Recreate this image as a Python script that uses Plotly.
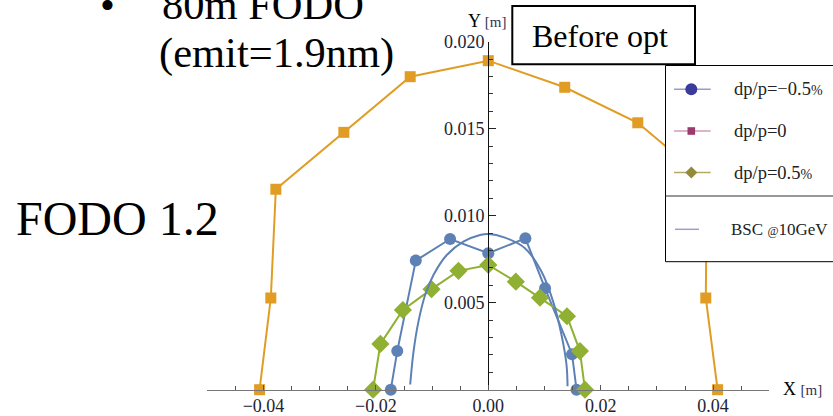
import plotly.graph_objects as go

W, H = 833, 416

# ---- data ----
x_dp0 = [-0.0407, -0.0387, -0.0378, -0.0257, -0.0139, 0.0, 0.0136, 0.0266, 0.0389, 0.0387, 0.0408]
y_dp0 = [0.0, 0.00527, 0.01152, 0.01479, 0.01799, 0.01891, 0.01738, 0.01534, 0.0120, 0.00527, 0.0]

x_dpm = [-0.01735, -0.0162, -0.0129, -0.0068, 0.0, 0.0066, 0.0101, 0.0149, 0.0157]
y_dpm = [0.0, 0.00222, 0.00742, 0.00866, 0.00784, 0.0087, 0.00583, 0.00204, 0.0]

x_dpp = [-0.0205, -0.0192, -0.0152, -0.0101, -0.0053, 0.0, 0.0049, 0.0092, 0.0140, 0.0163, 0.0172]
y_dpp = [0.0, 0.00263, 0.00458, 0.00578, 0.00683, 0.00717, 0.00621, 0.00529, 0.00422, 0.00222, 0.0]

x_bsc = [-0.0139, -0.01331, -0.01243, -0.01124, -0.00976, -0.00739, -0.00444, -0.00147, 0.0,
         0.00296, 0.00652, 0.00948, 0.01154, 0.01303, 0.01392, 0.0141]
y_bsc = [0.0003, 0.00218, 0.00391, 0.00544, 0.00659, 0.00774, 0.00851, 0.00889, 0.00895,
         0.00874, 0.00813, 0.00678, 0.00506, 0.00314, 0.00142, 0.0002]

x_ticks = [-0.04, -0.02, 0.0, 0.02, 0.04]
x_ticklabels = ["\u22120.04", "\u22120.02", "0.00", "0.02", "0.04"]
y_ticks = [0.005, 0.010, 0.015, 0.020]
y_ticklabels = ["0.005", "0.010", "0.015", "0.020"]

legend_labels = ["dp/p=\u22120.5<span style='font-size:14px'>%</span>", "dp/p=0",
                 "dp/p=0.5<span style='font-size:14px'>%</span>",
                 "BSC <span style='font-size:12px'>@</span>10GeV"]
legend_sizes = [18.5, 18.5, 18.5, 17]

SERIF = "Liberation Serif, Times New Roman, serif"
ORANGE, BLUE, GREEN = "#E19C24", "#5E81B5", "#8FB032"


def P(px, py):
    return px / W, 1 - py / H


fig = go.Figure()
fig.add_trace(go.Scatter(x=x_dp0, y=y_dp0, mode="lines+markers", cliponaxis=False,
                         line=dict(color=ORANGE, width=2),
                         marker=dict(symbol="square", size=11, color=ORANGE)))
fig.add_trace(go.Scatter(x=x_dpm, y=y_dpm, mode="lines+markers", cliponaxis=False,
                         line=dict(color=BLUE, width=2),
                         marker=dict(symbol="circle", size=12, color=BLUE)))
fig.add_trace(go.Scatter(x=x_dpp, y=y_dpp, mode="lines+markers", cliponaxis=False,
                         line=dict(color=GREEN, width=2),
                         marker=dict(symbol="diamond", size=14, color=GREEN)))
fig.add_trace(go.Scatter(x=x_bsc, y=y_bsc, mode="lines", cliponaxis=False,
                         line=dict(color=BLUE, width=2, shape="spline", smoothing=1.0)))

x0p, x1p = 207.3, 769.3
ytop, ybot = 41.7, 389.7
yaxis_px = 488.3

fig.update_layout(
    width=W, height=H, margin=dict(l=0, r=0, t=0, b=0, pad=0, autoexpand=False),
    paper_bgcolor="white", plot_bgcolor="white", showlegend=False,
    font=dict(family=SERIF, color="#222233"),
    xaxis=dict(range=[-0.05, 0.05], domain=[x0p / W, x1p / W], anchor="y",
               automargin=False,
               showline=True, linecolor="#777777", linewidth=1.2,
               showgrid=False, zeroline=False,
               ticks="inside", ticklen=5, tickwidth=1, tickcolor="#555555",
               tickvals=x_ticks, ticktext=x_ticklabels,
               tickfont=dict(family=SERIF, size=18, color="#222233"),
               minor=dict(ticks="inside", ticklen=3.5, tick0=0, dtick=0.005,
                          tickcolor="#555555", showgrid=False)),
    yaxis=dict(range=[0, 0.020], domain=[1 - ybot / H, 1 - ytop / H], anchor="free",
               position=yaxis_px / W, automargin=False,
               showline=True, linecolor="#111111", linewidth=1.2,
               showgrid=False, zeroline=False,
               ticks="inside", ticklen=7, tickwidth=1, tickcolor="#222222",
               tickvals=y_ticks, ticktext=y_ticklabels,
               tickfont=dict(family=SERIF, size=18, color="#222233"),
               minor=dict(ticks="inside", ticklen=4, tick0=0, dtick=0.001,
                          tickcolor="#333333", showgrid=False)),
)

shapes = []
ann = []

# axis labels
x, y = P(487, 21)
ann.append(dict(x=x, y=y, xref="paper", yref="paper", xanchor="center", yanchor="middle",
                text="Y <span style='font-size:15px;color:#333355'>[m]</span>",
                showarrow=False, font=dict(family=SERIF, size=18, color="black")))
x, y = P(781, 389)
ann.append(dict(x=x, y=y, xref="paper", yref="paper", xanchor="left", yanchor="middle",
                text="X <span style='font-size:15px;color:#333355'>[m]</span>",
                showarrow=False, font=dict(family=SERIF, size=18, color="black")))

# slide texts
x, y = P(160, 5)
ann.append(dict(x=x, y=y, xref="paper", yref="paper", xanchor="left", yanchor="middle",
                text="80m FODO", showarrow=False, font=dict(family=SERIF, size=42.5, color="black")))
x, y = P(107, 5)
ann.append(dict(x=x, y=y, xref="paper", yref="paper", xanchor="center", yanchor="middle",
                text="\u2022", showarrow=False, font=dict(family=SERIF, size=42.5, color="black")))
x, y = P(157, 53)
ann.append(dict(x=x, y=y, xref="paper", yref="paper", xanchor="left", yanchor="middle",
                text="(emit=1.9nm)", showarrow=False, font=dict(family=SERIF, size=42.5, color="black")))
x, y = P(14, 218)
ann.append(dict(x=x, y=y, xref="paper", yref="paper", xanchor="left", yanchor="middle",
                text="FODO 1.2", showarrow=False, font=dict(family=SERIF, size=48, color="black")))

# "Before opt" box
ax0, ay0 = P(512.3, 6)
ax1, ay1 = P(695, 64.3)
shapes.append(dict(type="rect", xref="paper", yref="paper", x0=ax0, y0=ay1, x1=ax1, y1=ay0,
                   line=dict(color="black", width=2), fillcolor="white", layer="above"))
x, y = P(600, 36)
ann.append(dict(x=x, y=y, xref="paper", yref="paper", xanchor="center", yanchor="middle",
                text="Before opt", showarrow=False, font=dict(family=SERIF, size=32, color="black")))

# legend box
lx0, ly0 = P(665.5, 65.5)
lx1, ly1 = P(845, 261.7)
shapes.append(dict(type="rect", xref="paper", yref="paper", x0=lx0, y0=ly1, x1=lx1, y1=ly0,
                   line=dict(color="black", width=1), fillcolor="white", layer="above"))
sx0, sy = P(665.5, 196)
sx1, _ = P(845, 196)
shapes.append(dict(type="line", xref="paper", yref="paper", x0=sx0, y0=sy, x1=sx1, y1=sy,
                   line=dict(color="#333333", width=1), layer="above"))

item_y = [89.3, 131.0, 172.5, 229.3]
line_cols = ["#9a9ad0", "#d49ab8", "#b3aa66", "#9d9dd6"]
mark_cols = ["#3b3b9c", "#9c3a6c", "#948a3c", None]
for i, yy in enumerate(item_y):
    xa = 674 if i < 3 else 675
    xb = 710.7 if i < 3 else 699
    p0 = P(xa, yy)
    p1 = P(xb, yy)
    shapes.append(dict(type="line", xref="paper", yref="paper", x0=p0[0], y0=p0[1], x1=p1[0], y1=p1[1],
                       line=dict(color=line_cols[i], width=1.5), layer="above"))
    cx = 691.3
    if i == 0:
        r = 6
        a, b = P(cx - r, yy - r)
        c, d = P(cx + r, yy + r)
        shapes.append(dict(type="circle", xref="paper", yref="paper", x0=a, y0=d, x1=c, y1=b,
                           fillcolor=mark_cols[i], line=dict(width=0), layer="above"))
    elif i == 1:
        r = 3.8
        a, b = P(cx - r, yy - r)
        c, d = P(cx + r, yy + r)
        shapes.append(dict(type="rect", xref="paper", yref="paper", x0=a, y0=d, x1=c, y1=b,
                           fillcolor=mark_cols[i], line=dict(width=0), layer="above"))
    elif i == 2:
        r = 6
        pts = [P(cx - r, yy), P(cx, yy - r), P(cx + r, yy), P(cx, yy + r)]
        path = "M " + " L ".join(f"{px_},{py_}" for px_, py_ in pts) + " Z"
        shapes.append(dict(type="path", xref="paper", yref="paper", path=path,
                           fillcolor=mark_cols[i], line=dict(width=0), layer="above"))
    tx, ty = P(731.7 if i < 3 else 729, yy)
    ann.append(dict(x=tx, y=ty, xref="paper", yref="paper", xanchor="left", yanchor="middle",
                    text=legend_labels[i], showarrow=False,
                    font=dict(family=SERIF, size=legend_sizes[i], color="#222222")))

fig.update_layout(shapes=shapes, annotations=ann)
fig.write_html("out.html")
